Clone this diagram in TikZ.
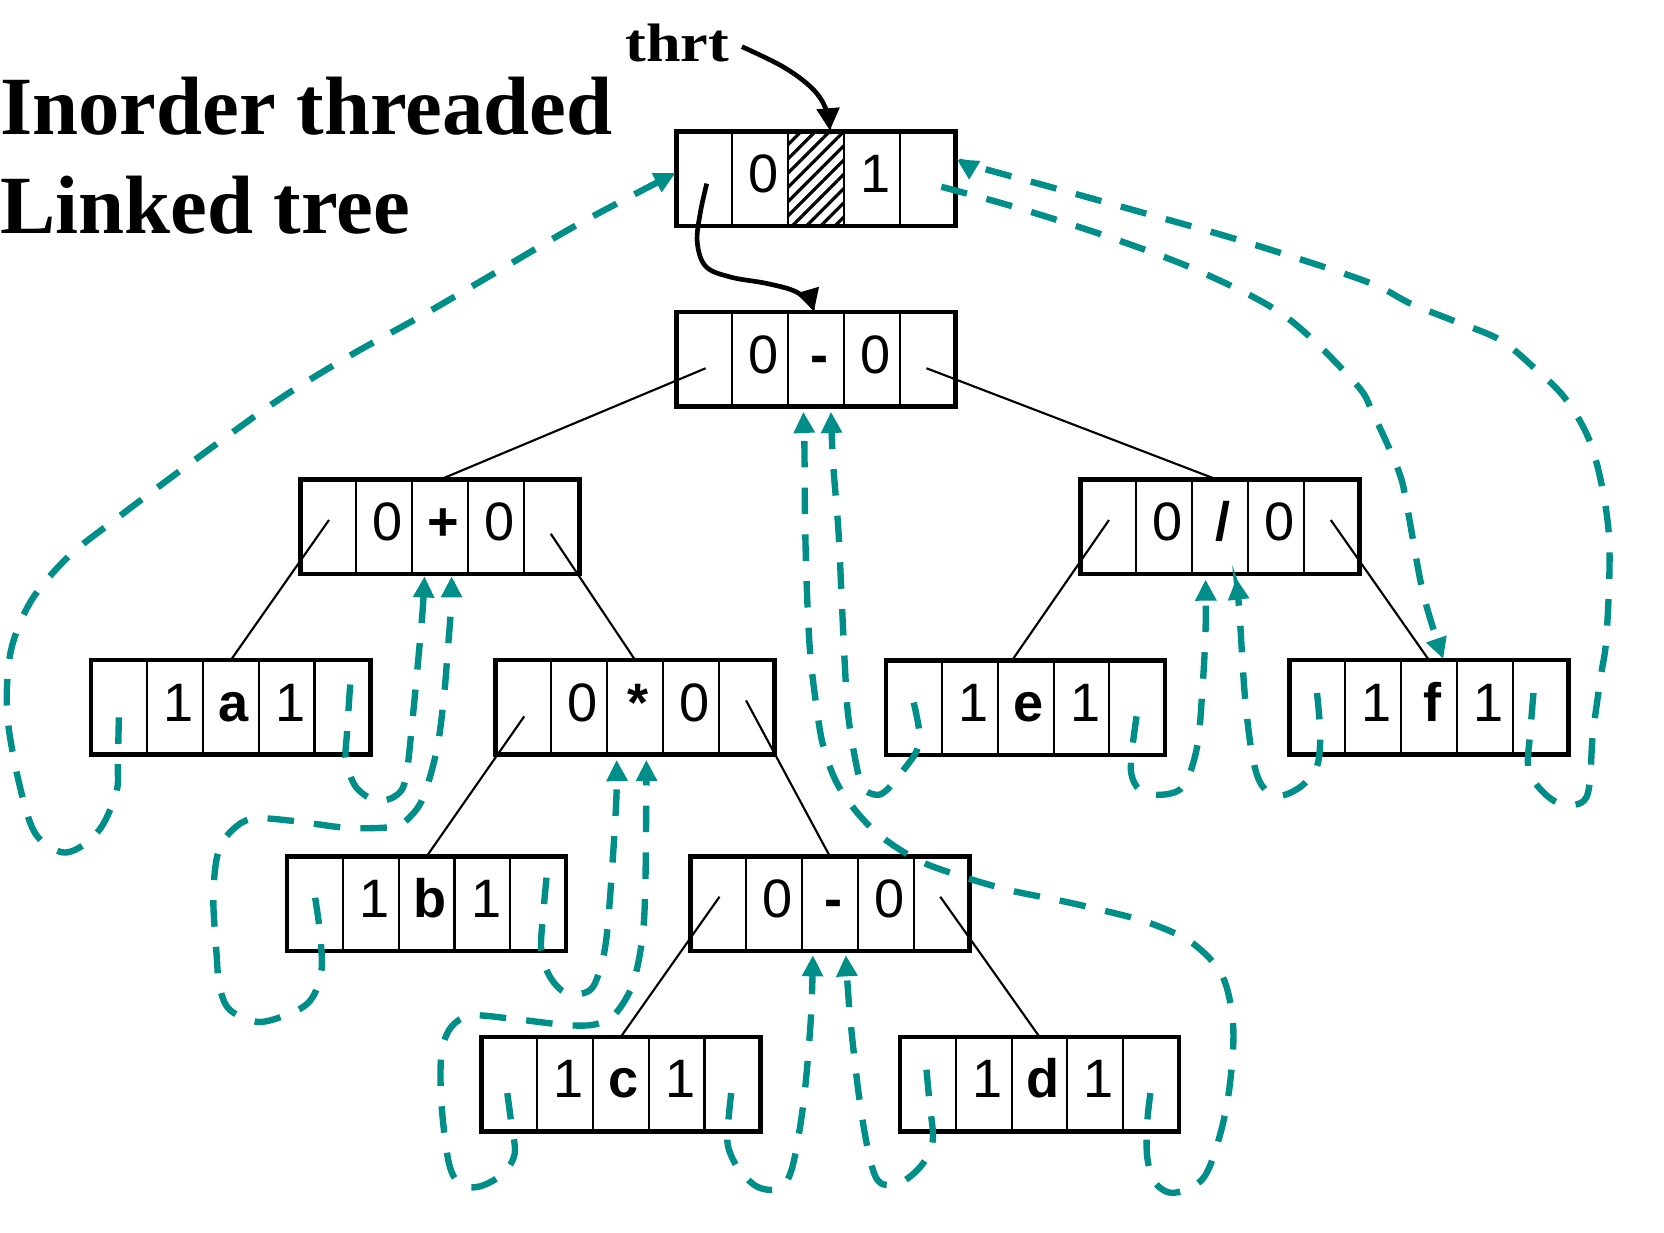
\documentclass[tikz,border=0pt]{standalone}
\usepackage{fontspec}
\usepackage{graphicx}
\setmainfont{Liberation Serif}
\newfontfamily\arialf{Liberation Sans}
\usetikzlibrary{arrows.meta,patterns.meta,calc}
\definecolor{thread}{RGB}{0,142,137}
\tikzset{
  cellrec/.style={draw, line width=4.2pt, minimum width=263pt, minimum height=89pt, inner sep=0pt, outer sep=0pt},
  divider/.style={line width=2pt},
  celltxt/.style={anchor=base, inner sep=0pt, font=\arialf\fontsize{51}{60}\selectfont},
  treeline/.style={line width=2pt},
  threadline/.style={draw=thread, line width=6pt, dash pattern=on 25pt off 19pt, -{Triangle[length=20pt,width=19pt]}},
  ptrline/.style={line width=4.4pt, -{Triangle[length=21pt,width=21pt]}},
  titletxt/.style={anchor=base west, inner sep=0pt, font=\bfseries\fontsize{78}{94}\selectfont},
}
\newcommand\cellbox[5]{%
  \node[cellrec] (#1) at (#2) {};
  \foreach \k in {1,2,3,4}{%
    \draw[divider] ([xshift=\k*52.6pt]#1.north west) -- ([xshift=\k*52.6pt]#1.south west);}
  \node[celltxt] (#1-2) at ([xshift=1.5*52.6pt+3.5pt,yshift=-13pt]#1.west) {#3};
  \node[celltxt] (#1-3) at ([xshift=2.5*52.6pt+3pt,yshift=-13pt]#1.west) {#4};
  \node[celltxt] (#1-4) at ([xshift=3.5*52.6pt+3.5pt,yshift=-13pt]#1.west) {#5};
}
\begin{document}
\begin{tikzpicture}[x=1pt,y=-1pt]
\useasboundingbox (0,0) rectangle (1568,1161);
\fill[white] (0,0) rectangle (1568,1161);

% titles
\node[titletxt] (title1) at (0,127) {Inorder threaded};
\node[titletxt] (title2) at (0,220) {Linked tree};
\node[anchor=base west, inner sep=0pt, font=\bfseries\fontsize{51}{60}\selectfont] (thrt) at (589,58) {\scalebox{1.15}[1]{thrt}};

% boxes
\cellbox{head}{769,168.5}{0}{}{1}
\fill[pattern={Lines[angle=45,distance=9.5pt,line width=3pt]}] ([xshift=2*52.6pt]head.north west) rectangle ([xshift=3*52.6pt]head.south west);
\draw[divider] ([xshift=2*52.6pt]head.north west) -- ([xshift=2*52.6pt]head.south west);
\draw[divider] ([xshift=3*52.6pt]head.north west) -- ([xshift=3*52.6pt]head.south west);
\draw[line width=4.2pt] (head.north west) rectangle (head.south east);

\cellbox{root}{769,338.5}{0}{\textbf{-}}{0}
\cellbox{plus}{414.5,496.5}{0}{\textbf{+}}{0}
\cellbox{div}{1149.5,496.5}{0}{\textbf{/}}{0}
\cellbox{a}{217.5,666.5}{1}{\textbf{a}}{1}
\cellbox{mul}{598.5,666.5}{0}{\textbf{*}}{0}
\cellbox{e}{966.5,667}{1}{\textbf{e}}{1}
\cellbox{f}{1346.5,666.5}{1}{\textbf{f}}{1}
\cellbox{b}{402,851.5}{1}{\textbf{b}}{1}
\cellbox{m2}{782,851.5}{0}{\textbf{-}}{0}
\cellbox{c}{585,1021.5}{1}{\textbf{c}}{1}
\cellbox{d}{979.5,1021.5}{1}{\textbf{d}}{1}

% tree links
\draw[treeline] ([shift={(27.5,53)}]root.north west) -- (plus.north);
\draw[treeline] ([shift={(-27.5,53)}]root.north east) -- ([xshift=-2.5pt]div.north);
\draw[treeline] ([shift={(27,38)}]plus.north west) -- (a.north);
\draw[treeline] ([shift={(-27,51)}]plus.north east) -- (mul.north);
\draw[treeline] ([shift={(27,53)}]mul.north west) -- (b.north);
\draw[treeline] ([shift={(-27,38)}]mul.north east) -- (m2.north);
\draw[treeline] ([shift={(27.5,38)}]m2.north west) -- (c.north);
\draw[treeline] ([shift={(-27.5,38)}]m2.north east) -- (d.north);
\draw[treeline] ([shift={(27,38)}]div.north west) -- ([xshift=-13pt]e.north);
\draw[treeline] ([shift={(-27,38)}]div.north east) -- (f.north);

% named ends
\coordinate (hLin) at ([shift={(-1,-5.5)}]head.west);
\coordinate (hRin) at ([shift={(1,-18.5)}]head.east);
\coordinate (hTin) at ([shift={(13,-1)}]head.north);
\coordinate (rTin) at ([shift={(-2,-0.5)}]root.north);
\coordinate (rLin) at ([shift={(-12,5)}]root.south);
\coordinate (rRin) at ([shift={(14,5)}]root.south);
\coordinate (pLin) at ([shift={(-14.5,2)}]plus.south);
\coordinate (pRin) at ([shift={(11,2)}]plus.south);
\coordinate (mLin) at ([shift={(-17.5,5)}]mul.south);
\coordinate (mRin) at ([shift={(10.5,5)}]mul.south);
\coordinate (m2Lin) at ([shift={(-16,4)}]m2.south);
\coordinate (m2Rin) at ([shift={(15,4)}]m2.south);
\coordinate (dvLin) at ([shift={(-13.5,5)}]div.south);
\coordinate (dvRin) at ([shift={(15.5,4)}]div.south);
\coordinate (fTin) at ([shift={(13.5,-1)}]f.north);
% named starts
\coordinate (aLs) at ([shift={(26,9.5)}]a.west);
\coordinate (aRs) at ([shift={(-19,-21.5)}]a.east);
\coordinate (bLs) at ([shift={(26.5,-5.5)}]b.west);
\coordinate (bRs) at ([shift={(-18.5,-24.5)}]b.east);
\coordinate (cLs) at ([shift={(24.5,8.5)}]c.west);
\coordinate (cRs) at ([shift={(-27.5,8.5)}]c.east);
\coordinate (dLs) at ([shift={(25,-13.5)}]d.west);
\coordinate (dRs) at ([shift={(-27,8.5)}]d.east);
\coordinate (eLs) at ([shift={(26,-5)}]e.west);
\coordinate (eRs) at ([shift={(-27,8)}]e.east);
\coordinate (fLs) at ([shift={(26,-13.5)}]f.west);
\coordinate (fRs) at ([shift={(-33,-13.5)}]f.east);
\coordinate (hRs) at ([shift={(-13.5,7.5)}]head.east);
\coordinate (hLs) at ([shift={(28.5,4.5)}]head.west);
\coordinate (thrtS) at ([shift={(12,-14)}]thrt.base east);

% black pointers
\draw[ptrline] plot[smooth,tension=0.6] coordinates {(thrtS) (738,63) (765,83) (778,102) (hTin)};
\draw[ptrline] plot[smooth,tension=0.6] coordinates {(hLs) (660,200) (657,228) (665,251) (688,261) (722,267) (748,274) (762,284) (rTin)};

% threads
\draw[threadline] plot[smooth,tension=0.55] coordinates {(aLs) (111,720) (110,745) (97,777) (79,796) (58,803) (33,785) (18,738) (7,676) (8,628) (15,597) (32,562) (65,524) (108,490) (180,436) (262,377) (330,335) (400,296) (470,255) (540,214) (600,182) (hLin)};
\draw[threadline] plot[smooth,tension=0.55] coordinates {(aRs) (327,690) (326,716) (335,741) (353,754) (371,751) (382,735) (389,675) (395,612) (398.5,572) (pLin)};
\draw[threadline] plot[smooth,tension=0.55] coordinates {(bLs) (301.5,879) (303,914) (295,939) (280,952) (245,963) (217,952) (207,930) (204,898) (201,848) (204,810) (212,790) (228,775) (245,771) (280,774) (327,780) (371,779) (386,770) (399,751) (411.5,707) (418,660) (422,612) (425,572) (pRin)};
\draw[threadline] plot[smooth,tension=0.55] coordinates {(bRs) (512,860) (510,895) (518,920) (534,936) (556,933) (566,911) (572,879) (578,801) (581,747) (mLin)};
\draw[threadline] plot[smooth,tension=0.55] coordinates {(cLs) (482,1060) (485,1087) (474,1106) (452,1118) (434,1116) (423,1096) (416,1040) (416,993) (425,968) (444,957) (483,960) (535,966) (562,965) (580,955) (596,928) (605,886) (608,839) (609,747) (mRin)};
\draw[threadline] plot[smooth,tension=0.55] coordinates {(cRs) (686,1060) (686,1080) (695,1100) (713,1118) (733,1120) (746,1102) (757,1040) (764,961) (m2Lin)};
\draw[threadline] plot[smooth,tension=0.55] coordinates {(dLs) (876,1040) (879,1074) (870,1096) (851,1113) (830,1115) (820,1093) (810,1037) (801,958) (m2Rin)};
\draw[threadline] plot[smooth,tension=0.55] coordinates {(dRs) (1081,1058) (1081,1090) (1088,1114) (1106,1124) (1134,1110) (1150,1068) (1159,1021) (1162,967) (1152,920) (1124,889) (1084,870) (1040,858) (996,848) (952,839) (907,826) (864,810) (823,782) (792,744) (776,704) (768,656) (763,610) (760,547) (758.5,484) (758,421) (rLin)};
\draw[threadline] plot[smooth,tension=0.55] coordinates {(eLs) (866,688) (864,707) (851,726) (836,744) (826,749) (813,742) (806,716) (799,672) (796,625) (793,562) (790,499) (785,436) (rRin)};
\draw[threadline] plot[smooth,tension=0.55] coordinates {(eRs) (1067,705) (1066,729) (1074,744) (1093,749) (1115,741) (1128,704) (1133,650) (1136,594) (dvLin)};
\draw[threadline] plot[smooth,tension=0.55] coordinates {(fLs) (1244,691) (1241,722) (1226,741) (1205,750) (1189,740) (1180,712) (1173,655) (1168,578) (dvRin)};
\draw[threadline] plot[smooth,tension=0.55] coordinates {(fRs) (1442,690) (1440,722) (1450,742) (1470,757) (1495,751) (1501,691) (1508,640) (1514,597) (1516,503) (1501,424) (1476,377) (1445,346) (1413,320) (1369,302) (1329,286) (1299,270) (1255,254) (1167,226) (1079,201) (991,176.5) (920,157) (hRin)};
\draw[threadline] plot[smooth,tension=0.55] coordinates {(hRs) (956,195) (1044,223) (1131,256) (1211,298) (1277,361) (1294,390) (1318,444) (1326,478) (1341,559) (fTin)};
\end{tikzpicture}
\end{document}
